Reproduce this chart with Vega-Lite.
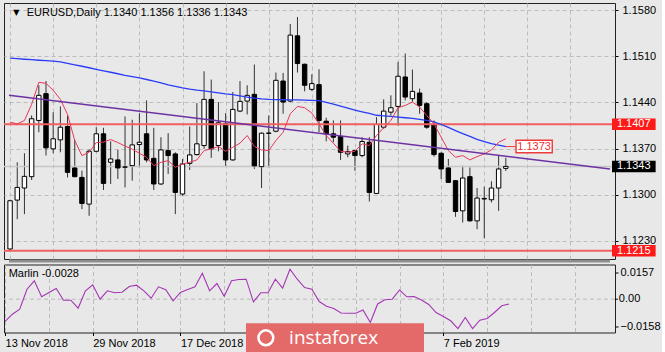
{
  "$schema": "https://vega.github.io/schema/vega-lite/v6.json",
  "background": "#e8e8e8",
  "padding": {"left": 2, "top": 2, "right": 0, "bottom": 0},
  "spacing": 0.5,
  "config": {
    "view": {"stroke": "#222222", "strokeWidth": 1},
    "font": "Liberation Sans",
    "axis": {"labelFont": "Liberation Sans", "labelFontSize": 11, "labelColor": "#000000", "tickColor": "#000000", "gridColor": "#bcbcbc", "gridDash": [4, 3], "gridWidth": 1, "domain": false, "title": null, "labelOverlap": false, "labelBound": false, "labelFlush": false},
    "text": {"font": "Liberation Sans", "fontSize": 11}
  },
  "datasets": {
    "bars": [
      {"i":0,"o":1.12178,"h":1.12924,"l":1.12163,"c":1.12909,"ma":1.15070,"ema":1.14100,"marlin":-0.0130},
      {"i":1,"o":1.12919,"h":1.13492,"l":1.12630,"c":1.13111,"ma":1.15062,"ema":1.14073,"marlin":-0.00875},
      {"i":2,"o":1.13102,"h":1.13629,"l":1.12706,"c":1.13279,"ma":1.15054,"ema":1.14126,"marlin":-0.00583},
      {"i":3,"o":1.13274,"h":1.14202,"l":1.13224,"c":1.14152,"ma":1.15047,"ema":1.14370,"marlin":0.00583},
      {"i":4,"o":1.14126,"h":1.14659,"l":1.13948,"c":1.14507,"ma":1.15039,"ema":1.14704,"marlin":0.01074},
      {"i":5,"o":1.14532,"h":1.14724,"l":1.13594,"c":1.13711,"ma":1.15032,"ema":1.14689,"marlin":0.0014},
      {"i":6,"o":1.13696,"h":1.14252,"l":1.13629,"c":1.13848,"ma":1.15024,"ema":1.14583,"marlin":0.00391},
      {"i":7,"o":1.13832,"h":1.14339,"l":1.13644,"c":1.14024,"ma":1.15013,"ema":1.14446,"marlin":0.00624},
      {"i":8,"o":1.14035,"h":1.14202,"l":1.13263,"c":1.13339,"ma":1.14990,"ema":1.14217,"marlin":-0.00058},
      {"i":9,"o":1.13406,"h":1.13832,"l":1.13263,"c":1.13274,"ma":1.14969,"ema":1.13822,"marlin":-0.00058},
      {"i":10,"o":1.13263,"h":1.13365,"l":1.12782,"c":1.12868,"ma":1.14948,"ema":1.13594,"marlin":-0.00525},
      {"i":11,"o":1.12858,"h":1.13685,"l":1.12681,"c":1.13659,"ma":1.14925,"ema":1.13644,"marlin":0.0049},
      {"i":12,"o":1.13659,"h":1.14024,"l":1.13644,"c":1.13924,"ma":1.14902,"ema":1.13791,"marlin":0.0084},
      {"i":13,"o":1.13924,"h":1.14015,"l":1.13072,"c":1.13172,"ma":1.14879,"ema":1.13799,"marlin":0.0},
      {"i":14,"o":1.13492,"h":1.13811,"l":1.13163,"c":1.13543,"ma":1.14857,"ema":1.13837,"marlin":0.0049},
      {"i":15,"o":1.13528,"h":1.13680,"l":1.13239,"c":1.13406,"ma":1.14834,"ema":1.13791,"marlin":0.00373},
      {"i":16,"o":1.13422,"h":1.14187,"l":1.13111,"c":1.13418,"ma":1.14811,"ema":1.13738,"marlin":0.00408},
      {"i":17,"o":1.13441,"h":1.14137,"l":1.13213,"c":1.13756,"ma":1.14791,"ema":1.13692,"marlin":0.00741},
      {"i":18,"o":1.13761,"h":1.14237,"l":1.13415,"c":1.13796,"ma":1.14770,"ema":1.13629,"marlin":0.00817},
      {"i":19,"o":1.13924,"h":1.14430,"l":1.13492,"c":1.13528,"ma":1.14747,"ema":1.13568,"marlin":0.0049},
      {"i":20,"o":1.13552,"h":1.14015,"l":1.13072,"c":1.13163,"ma":1.14723,"ema":1.13441,"marlin":0.00058},
      {"i":21,"o":1.13163,"h":1.13872,"l":1.13152,"c":1.13680,"ma":1.14697,"ema":1.13492,"marlin":0.00723},
      {"i":22,"o":1.13670,"h":1.13933,"l":1.13315,"c":1.13594,"ma":1.14666,"ema":1.13517,"marlin":0.00548},
      {"i":23,"o":1.13619,"h":1.13644,"l":1.12706,"c":1.13035,"ma":1.14644,"ema":1.13415,"marlin":-0.00093},
      {"i":24,"o":1.13011,"h":1.13543,"l":1.12985,"c":1.13467,"ma":1.14621,"ema":1.13467,"marlin":0.00391},
      {"i":25,"o":1.13476,"h":1.14035,"l":1.13376,"c":1.13604,"ma":1.14602,"ema":1.13492,"marlin":0.00566},
      {"i":26,"o":1.13609,"h":1.14389,"l":1.13594,"c":1.13772,"ma":1.14586,"ema":1.13528,"marlin":0.00723},
      {"i":27,"o":1.13746,"h":1.14872,"l":1.13696,"c":1.14446,"ma":1.14574,"ema":1.13670,"marlin":0.01517},
      {"i":28,"o":1.14446,"h":1.14746,"l":1.13559,"c":1.13696,"ma":1.14560,"ema":1.13696,"marlin":0.0049},
      {"i":29,"o":1.13746,"h":1.14405,"l":1.13659,"c":1.14091,"ma":1.14545,"ema":1.13731,"marlin":0.00916},
      {"i":30,"o":1.14076,"h":1.14237,"l":1.13426,"c":1.13528,"ma":1.14529,"ema":1.13659,"marlin":0.00175},
      {"i":31,"o":1.13528,"h":1.14557,"l":1.13517,"c":1.14294,"ma":1.14517,"ema":1.13720,"marlin":0.01074},
      {"i":32,"o":1.14268,"h":1.14724,"l":1.14252,"c":1.14415,"ma":1.14499,"ema":1.13781,"marlin":0.01149},
      {"i":33,"o":1.14420,"h":1.14659,"l":1.14217,"c":1.14507,"ma":1.14481,"ema":1.13898,"marlin":0.01167},
      {"i":34,"o":1.14522,"h":1.14974,"l":1.13391,"c":1.13437,"ma":1.14464,"ema":1.13731,"marlin":-0.00152},
      {"i":35,"o":1.13426,"h":1.13945,"l":1.13102,"c":1.13933,"ma":1.14452,"ema":1.13680,"marlin":0.00373},
      {"i":36,"o":1.13930,"h":1.14202,"l":1.13415,"c":1.13936,"ma":1.14446,"ema":1.13670,"marlin":0.00373},
      {"i":37,"o":1.13963,"h":1.14852,"l":1.13948,"c":1.14735,"ma":1.14443,"ema":1.13822,"marlin":0.01167},
      {"i":38,"o":1.14724,"h":1.14846,"l":1.14228,"c":1.14405,"ma":1.14440,"ema":1.13948,"marlin":0.00642},
      {"i":39,"o":1.14420,"h":1.15587,"l":1.14405,"c":1.15420,"ma":1.14438,"ema":1.14228,"marlin":0.0175},
      {"i":40,"o":1.15409,"h":1.15694,"l":1.14852,"c":1.14989,"ma":1.14437,"ema":1.14339,"marlin":0.01167},
      {"i":41,"o":1.14978,"h":1.14989,"l":1.14567,"c":1.14659,"ma":1.14434,"ema":1.14319,"marlin":0.00683},
      {"i":42,"o":1.14598,"h":1.14826,"l":1.14572,"c":1.14685,"ma":1.14430,"ema":1.14237,"marlin":0.00583},
      {"i":43,"o":1.14669,"h":1.14902,"l":1.13948,"c":1.14126,"ma":1.14426,"ema":1.14076,"marlin":-0.00134},
      {"i":44,"o":1.14115,"h":1.14167,"l":1.13811,"c":1.13924,"ma":1.14400,"ema":1.13898,"marlin":-0.00408},
      {"i":45,"o":1.13924,"h":1.14126,"l":1.13796,"c":1.13872,"ma":1.14373,"ema":1.13781,"marlin":-0.00543},
      {"i":46,"o":1.13883,"h":1.14126,"l":1.13528,"c":1.13644,"ma":1.14342,"ema":1.13659,"marlin":-0.00805},
      {"i":47,"o":1.13619,"h":1.13746,"l":1.13568,"c":1.13654,"ma":1.14312,"ema":1.13644,"marlin":-0.00817},
      {"i":48,"o":1.13670,"h":1.13680,"l":1.13365,"c":1.13594,"ma":1.14281,"ema":1.13659,"marlin":-0.00817},
      {"i":49,"o":1.13594,"h":1.13872,"l":1.13568,"c":1.13807,"ma":1.14256,"ema":1.13772,"marlin":-0.0063},
      {"i":50,"o":1.13796,"h":1.13872,"l":1.12898,"c":1.13035,"ma":1.14233,"ema":1.13746,"marlin":-0.0136},
      {"i":51,"o":1.13020,"h":1.14176,"l":1.13011,"c":1.14065,"ma":1.14205,"ema":1.13898,"marlin":-0.0028},
      {"i":52,"o":1.14024,"h":1.14446,"l":1.13999,"c":1.14268,"ma":1.14195,"ema":1.14015,"marlin":-0.00035},
      {"i":53,"o":1.14252,"h":1.14507,"l":1.14202,"c":1.14319,"ma":1.14187,"ema":1.14126,"marlin":0.0},
      {"i":54,"o":1.14339,"h":1.15013,"l":1.14050,"c":1.14796,"ma":1.14176,"ema":1.14319,"marlin":0.00537},
      {"i":55,"o":1.14785,"h":1.15141,"l":1.14430,"c":1.14481,"ma":1.14167,"ema":1.14354,"marlin":0.0014},
      {"i":56,"o":1.14456,"h":1.14898,"l":1.14405,"c":1.14567,"ma":1.14157,"ema":1.14405,"marlin":0.00158},
      {"i":57,"o":1.14542,"h":1.14609,"l":1.14228,"c":1.14354,"ma":1.14141,"ema":1.14329,"marlin":-0.00047},
      {"i":58,"o":1.14380,"h":1.14405,"l":1.13999,"c":1.14024,"ma":1.14126,"ema":1.14202,"marlin":-0.00309},
      {"i":59,"o":1.14065,"h":1.14126,"l":1.13578,"c":1.13609,"ma":1.14103,"ema":1.14076,"marlin":-0.00776},
      {"i":60,"o":1.13629,"h":1.13644,"l":1.13239,"c":1.13391,"ma":1.14065,"ema":1.13872,"marlin":-0.01009},
      {"i":61,"o":1.13406,"h":1.13543,"l":1.13180,"c":1.13187,"ma":1.14020,"ema":1.13670,"marlin":-0.0126},
      {"i":62,"o":1.13213,"h":1.13224,"l":1.12665,"c":1.12746,"ma":1.13971,"ema":1.13568,"marlin":-0.0171},
      {"i":63,"o":1.12756,"h":1.13441,"l":1.12579,"c":1.13254,"ma":1.13928,"ema":1.13594,"marlin":-0.01068},
      {"i":64,"o":1.13274,"h":1.13415,"l":1.12595,"c":1.12604,"ma":1.13886,"ema":1.13528,"marlin":-0.0171},
      {"i":65,"o":1.12604,"h":1.13102,"l":1.12478,"c":1.12950,"ma":1.13840,"ema":1.13578,"marlin":-0.01225},
      {"i":66,"o":1.12935,"h":1.13122,"l":1.12341,"c":1.12945,"ma":1.13807,"ema":1.13619,"marlin":-0.01126},
      {"i":67,"o":1.12924,"h":1.13203,"l":1.12883,"c":1.13102,"ma":1.13776,"ema":1.13680,"marlin":-0.00776},
      {"i":68,"o":1.13102,"h":1.13594,"l":1.12756,"c":1.13391,"ma":1.13753,"ema":1.13796,"marlin":-0.00385},
      {"i":69,"o":1.1340,"h":1.1356,"l":1.1336,"c":1.1343,"ma":1.13730,"ema":1.13848,"marlin":-0.0028}
    ],
    "trend": [{"i": -0.15, "p": 1.14508}, {"i": 83.5, "p": 1.13391}],
    "levels": [{"label": "1.1407", "p": 1.1407}, {"label": "1.1215", "p": 1.1215}],
    "bid": [{"label": "1.1343", "p": 1.1343}],
    "tags": [
      {"label": "1.1407", "p": 1.1407, "kind": "level"},
      {"label": "1.1215", "p": 1.1215, "kind": "level"},
      {"label": "1.1343", "p": 1.1343, "kind": "bid"}
    ],
    "callout": [{"label": "1.1373", "p": 1.1373}],
    "header": [{"t": "EURUSD,Daily  1.1340 1.1356 1.1336 1.1343"}],
    "ind": [{"t": "Marlin -0.0028"}],
    "zeroline": [{"v": 0, "label": "0.00"}],
    "logo": [{"t": "instaforex"}]
  },
  "vconcat": [
    {
      "width": 611,
      "height": 256,
      "layer": [
        {
          "data": {"name": "bars"},
          "mark": {"type": "rule", "color": "#333333", "strokeWidth": 1},
          "encoding": {
            "x": {"field": "i", "type": "quantitative", "scale": {"domain": [-0.15, 83.5], "nice": false, "zero": false},
                  "axis": {"values": [0,6,12,18,24,30,36,42,48,54,60,66,72,78], "labels": false, "ticks": false, "grid": true}},
            "y": {"field": "l", "type": "quantitative", "scale": {"domain": [1.120261, 1.159066], "nice": false, "zero": false},
                  "axis": {"orient": "right", "values": [1.123, 1.13, 1.137, 1.144, 1.151, 1.158], "format": ".4f", "tickSize": 3, "labelPadding": 4, "grid": true}},
            "y2": {"field": "h"}
          }
        },
        {
          "data": {"name": "bid"},
          "mark": {"type": "rule", "color": "#c6c6c6", "strokeWidth": 1.5},
          "encoding": {"y": {"field": "p", "type": "quantitative"}}
        },
        {
          "data": {"name": "bars"},
          "mark": {"type": "bar", "size": 4.4, "stroke": "#000000", "strokeWidth": 1},
          "encoding": {
            "x": {"field": "i", "type": "quantitative", "scale": {"domain": [-0.15, 83.5], "nice": false, "zero": false}},
            "y": {"field": "o", "type": "quantitative", "scale": {"domain": [1.120261, 1.159066], "nice": false, "zero": false}},
            "y2": {"field": "c"},
            "fill": {"condition": {"test": "datum.c >= datum.o", "value": "#ffffff"}, "value": "#000000"}
          }
        },
        {
          "data": {"name": "levels"},
          "mark": {"type": "rule", "color": "#f06060", "strokeWidth": 2},
          "encoding": {"y": {"field": "p", "type": "quantitative"}}
        },
        {
          "data": {"name": "bars"},
          "mark": {"type": "line", "color": "#2a3cf6", "strokeWidth": 1.3},
          "encoding": {"x": {"field": "i", "type": "quantitative"}, "y": {"field": "ma", "type": "quantitative"}}
        },
        {
          "data": {"name": "bars"},
          "mark": {"type": "line", "color": "#e6385a", "strokeWidth": 1},
          "encoding": {"x": {"field": "i", "type": "quantitative"}, "y": {"field": "ema", "type": "quantitative"}}
        },
        {
          "data": {"name": "trend"},
          "mark": {"type": "line", "color": "#6d32a3", "strokeWidth": 1.6},
          "encoding": {"x": {"field": "i", "type": "quantitative"}, "y": {"field": "p", "type": "quantitative"}}
        },
        {
          "data": {"name": "callout"},
          "mark": {"type": "rule", "color": "#f03a3a", "strokeWidth": 1},
          "encoding": {"x": {"datum": 69.0}, "x2": {"datum": 70.32}, "y": {"field": "p", "type": "quantitative"}}
        },
        {
          "data": {"name": "callout"},
          "mark": {"type": "rule", "color": "#f03a3a", "strokeWidth": 14, "strokeCap": "butt"},
          "encoding": {"x": {"datum": 70.32}, "x2": {"datum": 75.56}, "y": {"field": "p", "type": "quantitative"}}
        },
        {
          "data": {"name": "callout"},
          "mark": {"type": "rule", "color": "#ffffff", "strokeWidth": 11, "strokeCap": "butt"},
          "encoding": {"x": {"datum": 70.52}, "x2": {"datum": 75.36}, "y": {"field": "p", "type": "quantitative"}}
        },
        {
          "data": {"name": "callout"},
          "mark": {"type": "text", "color": "#f03030", "align": "center", "baseline": "middle", "fontSize": 11},
          "encoding": {"x": {"datum": 72.94}, "y": {"field": "p", "type": "quantitative"}, "text": {"field": "label"}}
        },
        {
          "data": {"name": "tags"},
          "mark": {"type": "rule", "strokeWidth": 11.5, "strokeCap": "butt"},
          "encoding": {"x": {"datum": 83.78}, "x2": {"datum": 89.85}, "y": {"field": "p", "type": "quantitative"},
                       "color": {"field": "kind", "type": "nominal", "scale": {"domain": ["level", "bid"], "range": ["#ff1a1a", "#000000"]}, "legend": null}}
        },
        {
          "data": {"name": "tags"},
          "mark": {"type": "text", "color": "#ffffff", "align": "left", "baseline": "middle", "fontSize": 11},
          "encoding": {"x": {"datum": 84.46}, "y": {"field": "p", "type": "quantitative"}, "text": {"field": "label"}}
        },
        {
          "data": {"name": "header"},
          "mark": {"type": "rule", "color": "#8e8e8e", "strokeWidth": 3},
          "encoding": {"x": {"datum": -0.15}, "x2": {"datum": 83.5}, "y": {"datum": 1.11996}}
        },
        {
          "data": {"name": "header"},
          "mark": {"type": "text", "color": "#000000", "align": "left", "baseline": "middle", "fontSize": 11},
          "encoding": {"x": {"datum": 2.31}, "y": {"datum": 1.15762}, "text": {"field": "t"}}
        },
        {
          "data": {"name": "header"},
          "mark": {"type": "text", "color": "#000000", "align": "center", "baseline": "middle", "fontSize": 8, "font": "DejaVu Sans", "text": "▼"},
          "encoding": {"x": {"datum": 0.88}, "y": {"datum": 1.15762}}
        }
      ]
    },
    {
      "width": 611,
      "height": 68,
      "layer": [
        {
          "data": {"name": "zeroline"},
          "mark": {"type": "rule", "color": "#bcbcbc", "strokeWidth": 1, "strokeDash": [4, 3]},
          "encoding": {"y": {"field": "v", "type": "quantitative", "scale": {"domain": [-0.01943, 0.02025], "nice": false, "zero": false}}}
        },
        {
          "data": {"name": "zeroline"},
          "mark": {"type": "text", "color": "#000000", "align": "left", "baseline": "middle", "fontSize": 11},
          "encoding": {"x": {"datum": 84.03}, "y": {"field": "v", "type": "quantitative"}, "text": {"field": "label"}}
        },
        {
          "data": {"name": "zeroline"},
          "mark": {"type": "rule", "color": "#000000", "strokeWidth": 1},
          "encoding": {"x": {"datum": 83.5}, "x2": {"datum": 83.9}, "y": {"field": "v", "type": "quantitative"}}
        },
        {
          "data": {"name": "bars"},
          "mark": {"type": "line", "color": "#a436b4", "strokeWidth": 1.1},
          "encoding": {
            "x": {"field": "i", "type": "quantitative", "scale": {"domain": [-0.15, 83.5], "nice": false, "zero": false},
                  "axis": {"values": [0,6,12,18,24,30,36,42,48,54,60,66,72,78], "grid": true, "tickSize": 3, "labelPadding": 2, "labelAlign": "left",
                           "tickOpacity": {"condition": {"test": "indexof([0,12,24,60], datum.value) >= 0", "value": 1}, "value": 0},
                           "labelExpr": "datum.value == 0 ? '13 Nov 2018' : datum.value == 12 ? '29 Nov 2018' : datum.value == 24 ? '17 Dec 2018' : datum.value == 60 ? '7 Feb 2019' : ''"}},
            "y": {"field": "marlin", "type": "quantitative", "scale": {"domain": [-0.01943, 0.02025], "nice": false, "zero": false},
                  "axis": {"orient": "right", "values": [0.0157, -0.0158], "tickSize": 3, "labelPadding": 2, "grid": false, "format": ".4f"}}
          }
        },
        {
          "data": {"name": "ind"},
          "mark": {"type": "text", "color": "#000000", "align": "left", "baseline": "middle", "fontSize": 11},
          "encoding": {"x": {"datum": 0.49}, "y": {"datum": 0.01459}, "text": {"field": "t"}}
        },
        {
          "data": {"name": "logo"},
          "mark": {"type": "rect", "color": "#e46a6a"},
          "encoding": {"x": {"datum": 32.98}, "x2": {"datum": 57.35}, "y": {"datum": -0.0140}, "y2": {"datum": -0.0318}}
        },
        {
          "data": {"name": "logo"},
          "mark": {"type": "point", "shape": "circle", "filled": false, "color": "#ffffff", "strokeWidth": 2.5, "size": 220, "opacity": 1},
          "encoding": {"x": {"datum": 35.7}, "y": {"datum": -0.0225}}
        },
        {
          "data": {"name": "logo"},
          "mark": {"type": "text", "color": "#ffffff", "align": "center", "baseline": "middle", "fontSize": 19, "font": "Open Sans"},
          "encoding": {"x": {"datum": 44.98}, "y": {"datum": -0.0225}, "text": {"field": "t"}}
        }
      ]
    }
  ]
}
